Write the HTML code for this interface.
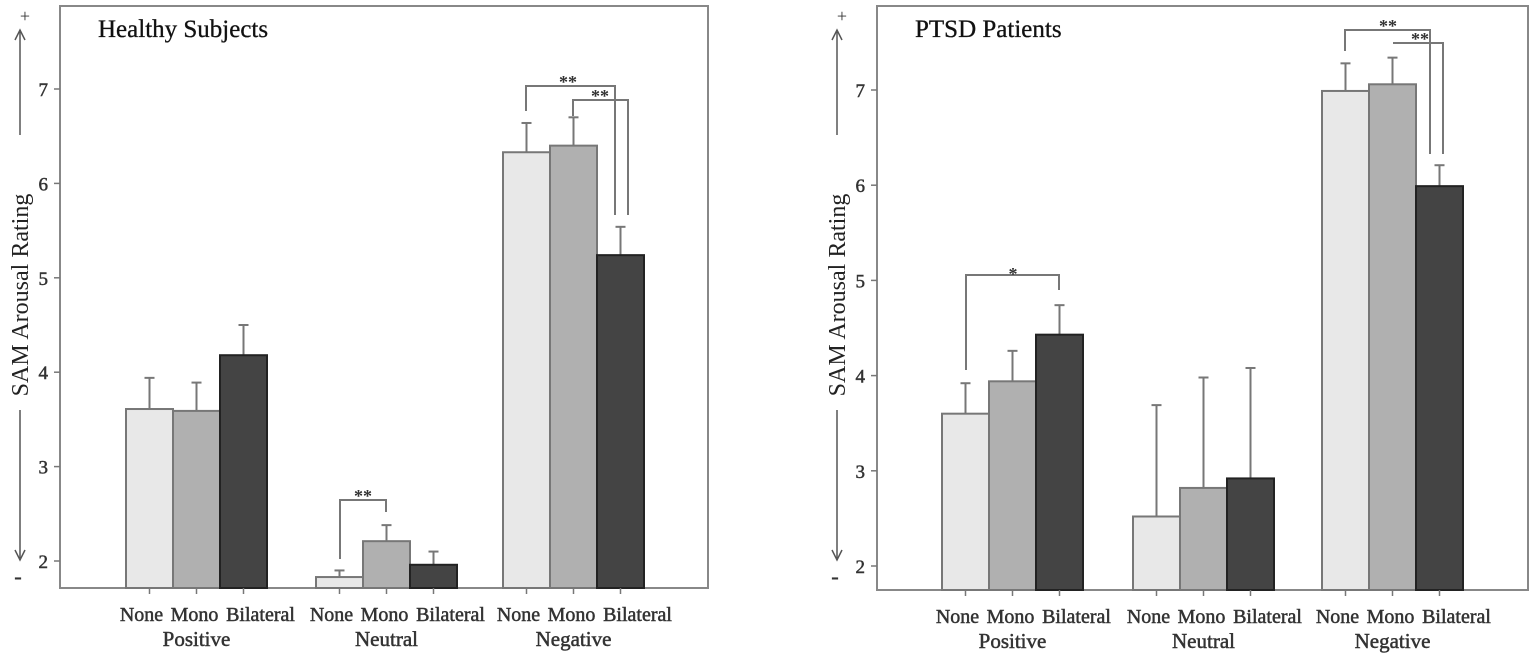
<!DOCTYPE html>
<html><head><meta charset="utf-8"><style>
html,body{margin:0;padding:0;background:#fff;}
svg{display:block;font-family:"Liberation Serif",serif;}
</style></head><body>
<svg id="chart" width="1535" height="659" viewBox="0 0 1535 659"></svg>
<script>
const groups = ["Positive","Neutral","Negative"];
const conditions = ["None","Mono","Bilateral"];
const healthyMeans = [[3.61,3.59,4.18],[1.83,2.21,1.96],[6.33,6.40,5.24]];
const healthyErr = [[3.94,3.89,4.50],[1.90,2.38,2.10],[6.64,6.70,5.54]];
const ptsdMeans = [[3.60,3.94,4.43],[2.52,2.82,2.92],[6.99,7.06,5.99]];
const ptsdErr = [[3.92,4.26,4.74],[3.69,3.98,4.08],[7.28,7.34,6.21]];
const yTicks = [2,3,4,5,6,7];
const fills = ["#e8e8e8","#b0b0b0","#444444"];
const labelShift = [-8,-2,17];

const NS="http://www.w3.org/2000/svg";
const svg=document.getElementById('chart');
function mk(tag,attrs,parent){const e=document.createElementNS(NS,tag);for(const k in attrs)e.setAttribute(k,attrs[k]);(parent||svg).appendChild(e);return e;}
function line(x1,y1,x2,y2,p,c,w){return mk('line',{x1,y1,x2,y2,stroke:c||'#777','stroke-width':w||2},p);}

function panel(cfg){
  const g=mk('g',{});
  
  
  const y=v=>cfg.y2-(v-2)*cfg.unit;
  mk('rect',{x:cfg.left,y:cfg.top,width:cfg.right-cfg.left,height:cfg.bottom-cfg.top,fill:'none',stroke:'#888','stroke-width':2},g);
  const t=mk('text',{x:cfg.left+38,y:37,'font-size':25,fill:'#111','stroke':'#111','stroke-width':0.3},g);t.textContent=cfg.title;
  
  
  yTicks.forEach(v=>{
    line(cfg.left-6,y(v),cfg.left,y(v),g,'#777',1.5);
    const tl=mk('text',{x:cfg.left-12,y:y(v)+7,'font-size':19,'stroke':'#333','stroke-width':0.5,'text-anchor':'end',fill:'#333'},g);tl.textContent=v;
    
    
  });
  const ax=cfg.left-40;
  line(ax,135,ax,32,g,'#555',1.5);
  mk('path',{d:`M${ax-5},40 L${ax},30 L${ax+5},40`,fill:'none',stroke:'#555','stroke-width':1.5},g);
  line(ax,410,ax,558,g,'#555',1.5);
  mk('path',{d:`M${ax-5},550 L${ax},560 L${ax+5},550`,fill:'none',stroke:'#555','stroke-width':1.5},g);
  const plus=mk('text',{x:ax+5,y:22,'font-size':18,'text-anchor':'middle',fill:'#333'},g);plus.textContent='+';
  const minus=mk('text',{x:ax-2,y:584,'font-size':24,'font-weight':'bold','text-anchor':'middle',fill:'#333'},g);minus.textContent='-';
  const yl=mk('text',{x:0,y:0,'font-size':24,'text-anchor':'middle',fill:'#222',transform:`translate(${ax+8},${295}) rotate(-90)`},g);
  yl.textContent='SAM Arousal Rating';
  
  
  groups.forEach((gr,gi)=>{
    conditions.forEach((c,ci)=>{
      const x0=cfg.groupX[gi]+ci*cfg.bw;
      const m=cfg.means[gi][ci], e=cfg.err[gi][ci];
      line(x0+cfg.bw/2,y(m),x0+cfg.bw/2,y(e),g,'#777',2);
      line(x0+cfg.bw/2-5,y(e),x0+cfg.bw/2+5,y(e),g,'#777',2);
      const r=mk('rect',{x:x0,y:y(m),width:cfg.bw,height:cfg.bottom-y(m),fill:fills[ci],stroke:ci==2?'#222':'#777','stroke-width':2},g);
      
      
      line(x0+cfg.bw/2,cfg.bottom,x0+cfg.bw/2,cfg.bottom+6,g,'#777',1.5);
      const xl=mk('text',{x:x0+cfg.bw/2+labelShift[ci],y:cfg.bottom+33,'font-size':20,'stroke':'#333','stroke-width':0.5,'text-anchor':'middle',fill:'#333'},g);xl.textContent=c;
      
      
    });
    const cl=mk('text',{x:cfg.groupX[gi]+cfg.bw*1.5,y:cfg.bottom+58,'font-size':21,'stroke':'#333','stroke-width':0.5,'text-anchor':'middle',fill:'#333'},g);cl.textContent=gr;
    
    
  });
  cfg.brackets.forEach(b=>{
    const p=mk('path',{d:b.d,fill:'none',stroke:'#777','stroke-width':2},g);
    
    
    const s=mk('text',{x:b.sx,y:b.sy+2,'font-size':18,'text-anchor':'middle',fill:'#333','font-weight':'bold'},g);s.textContent=b.s;
  });
}

panel({name:'healthy-panel',title:'Healthy Subjects',left:60,right:708,top:6,bottom:588,y2:561,unit:94.4,bw:47,
  groupX:[126,316,503],means:healthyMeans,err:healthyErr,
  brackets:[
    {d:'M340,559 L340,500 L386,500 L386,512',s:'**',sx:363,sy:500},
    {d:'M526,111 L526,86 L615,86 L615,215',s:'**',sx:568,sy:86},
    {d:'M573,116 L573,100 L628,100 L628,215',s:'**',sx:600,sy:100}
  ]});
panel({name:'ptsd-panel',title:'PTSD Patients',left:877,right:1528,top:6,bottom:590,y2:566,unit:95.2,bw:47,
  groupX:[942,1133,1322],means:ptsdMeans,err:ptsdErr,
  brackets:[
    {d:'M966,370 L966,275 L1059,275 L1059,290',s:'*',sx:1013,sy:278},
    {d:'M1345,51 L1345,30 L1430,30 L1430,154',s:'**',sx:1388,sy:30},
    {d:'M1393,43 L1443,43 L1443,154',s:'**',sx:1420,sy:43}
  ]});
</script>
</body></html>
